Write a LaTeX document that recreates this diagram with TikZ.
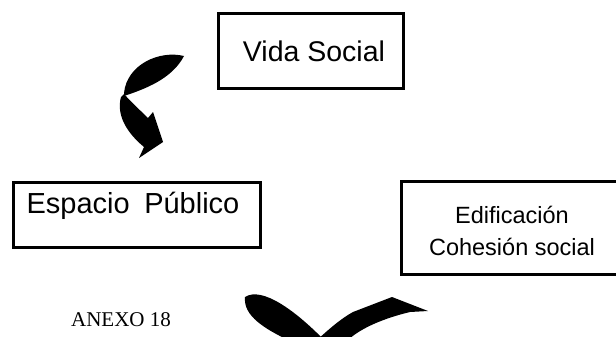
\documentclass[tikz,border=0pt]{standalone}
\usepackage{fontspec}
\setmainfont{Liberation Sans}
\newfontfamily\timesf{Liberation Serif}
\begin{document}
\begin{tikzpicture}[x=1pt,y=-1pt,
  box/.style={draw=black,line width=3pt,fill=white,inner sep=0pt},
  lbl/.style={inner sep=0pt,align=center},
  blob/.style={fill=black,draw=none}]
\useasboundingbox (0,0) rectangle (616,337);
% boxes
\node[box,minimum width=185pt,minimum height=75pt] (vida) at (310.5,51.5) {};
\node[lbl,font=\fontsize{28.5}{32}\selectfont] (vidat) at (314,51) {Vida Social};
\node[box,minimum width=247pt,minimum height=65pt] (esp) at (136.5,214.5) {};
\node[lbl,font=\fontsize{29}{33}\selectfont] (espt) at (133,206) {Espacio\hspace{0.5em}Público};
\coordinate (e1) at (622,181);
\coordinate (e2) at (401,181);
\coordinate (e3) at (401,274);
\coordinate (e4) at (622,274);
\draw[line width=3pt] (e1) -- (e2) -- (e3) -- (e4);
\node[lbl,font=\fontsize{23.5}{32}\selectfont] (edit) at (512,231) {Edificación\\Cohesión social};
\node[lbl,font=\timesf\fontsize{21}{24}\selectfont] (anexo) at (121,320) {ANEXO 18};
% top-left curved arrow
\fill[blob] (124,93) .. controls (127,64) and (160,50) .. (184,56)
  .. controls (172,79) and (145,89) .. (124,96) -- cycle;
\fill[blob] (124,94) .. controls (133,104) and (142,112) .. (148,118)
  -- (153,112) -- (163,142) -- (139,158) -- (144,147)
  .. controls (127,133) and (116,115) .. (121,97) -- cycle;
% bottom arrow
\fill[blob] (245,297) .. controls (262,286) and (296,311) .. (325,341)
  -- (290,341) .. controls (265,329) and (243,316) .. cycle;
\fill[blob] (316,341) .. controls (330,328) and (342,318) .. (353,312)
  -- (392,297) -- (428,311) -- (410,312)
  .. controls (385,318) and (360,328) .. (347,341) -- cycle;
\end{tikzpicture}
\end{document}
